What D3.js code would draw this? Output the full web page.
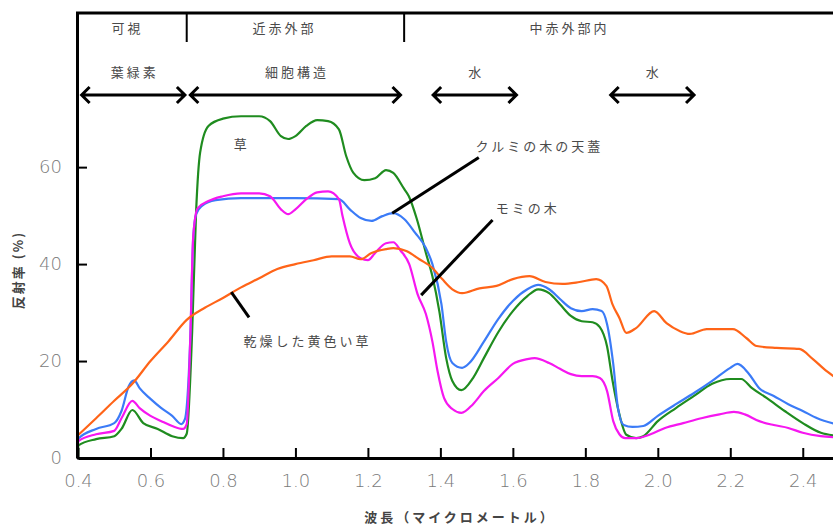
<!DOCTYPE html>
<html>
  <head>
    <meta charset="utf-8">
    <title>反射率スペクトル</title>
    <style media="screen">
      body { margin: 0; background: #fff; }

      .axis path, .axis line {
        stroke: black;
      }
      .axis path { stroke-width: 3; }
      .axis line { stroke-width: 2; }

      .axis text {
        font-family: "DejaVu Sans", sans-serif;
        font-weight: 300;
        font-size: 18px;
        fill: #7a7a7a;
      }

      .jp {
        font-family: "Noto Sans CJK JP", sans-serif;
        font-size: 13px;
        fill: #4a4a4a;
        letter-spacing: 3px;
      }

      .title {
        font-family: "Noto Sans CJK JP", sans-serif;
        font-size: 13px;
        font-weight: bold;
        fill: #444;
      }

      .series {
        fill: none;
        stroke-width: 2.2;
        stroke-linejoin: round;
      }

      .frame, .arrow, .leader {
        fill: none;
        stroke: black;
      }
    </style>
    <script src="https://d3js.org/d3.v7.min.js"></script>
  </head>
  <body>
    <script type="text/javascript">

      const width = 833;
      const height = 527;

      // [波長 (µm), 反射率 (%)]
      const grass = [
        [0.40, 0], [0.401, 2.6], [0.45, 3.9], [0.50, 4.5], [0.52, 6], [0.55, 9.9], [0.58, 7.2],
        [0.62, 6], [0.66, 4.5], [0.69, 4.1], [0.70, 5], [0.715, 26], [0.726, 51], [0.737, 63],
        [0.76, 68.5], [0.80, 70], [0.85, 70.5], [0.90, 70.5], [0.93, 69.5], [0.96, 66.4],
        [0.98, 65.8], [1.00, 66.4], [1.03, 68.5], [1.06, 69.7], [1.09, 69.5], [1.12, 67.8],
        [1.14, 62.3], [1.16, 58.8], [1.19, 57.3], [1.22, 57.7], [1.25, 59.4], [1.27, 58.8],
        [1.30, 55.5], [1.313, 54], [1.335, 49.3], [1.36, 42.3], [1.378, 37.5], [1.397, 30.3],
        [1.416, 20.6], [1.433, 15.9], [1.458, 14], [1.49, 16.5], [1.52, 20.6], [1.56, 26],
        [1.60, 30.3], [1.64, 33.4], [1.67, 34.8], [1.70, 34], [1.73, 31.7], [1.76, 29.3],
        [1.79, 28.2], [1.82, 28], [1.84, 27], [1.86, 23], [1.875, 16], [1.894, 9], [1.913, 4.8],
        [1.94, 4.1], [1.96, 4.5], [2.00, 7.6], [2.05, 10.3], [2.10, 12.8], [2.15, 15.3],
        [2.20, 16.3], [2.23, 16.3], [2.26, 14.4], [2.30, 12.4], [2.35, 9.7], [2.40, 7.2],
        [2.45, 5.2], [2.49, 4.6]
      ];

      const walnut = [
        [0.40, 3.5], [0.401, 4], [0.45, 6], [0.50, 7.2], [0.52, 9.7], [0.54, 14.8], [0.555, 16],
        [0.57, 14.4], [0.60, 12.2], [0.63, 10.3], [0.66, 8.7], [0.685, 7], [0.695, 8], [0.71, 25],
        [0.718, 45.4], [0.726, 50.3], [0.742, 52], [0.78, 53.2], [0.85, 53.6], [1.00, 53.6],
        [1.12, 53.4], [1.15, 51.3], [1.18, 49.5], [1.21, 48.9], [1.24, 49.9], [1.27, 50.5],
        [1.30, 49.3], [1.33, 46.5], [1.36, 43.3], [1.378, 40], [1.403, 31.7], [1.416, 24],
        [1.433, 19.6], [1.46, 18.6], [1.48, 19.6], [1.52, 24], [1.56, 28.7], [1.60, 32.4],
        [1.64, 34.8], [1.67, 35.7], [1.70, 34.8], [1.73, 32.8], [1.76, 30.9], [1.79, 30.3],
        [1.82, 30.7], [1.845, 30.3], [1.86, 27.6], [1.877, 19.4], [1.89, 10.3], [1.906, 6.8],
        [1.93, 6.4], [1.96, 6.6], [2.00, 8.7], [2.05, 11.1], [2.10, 13.4], [2.15, 15.9],
        [2.20, 18.6], [2.22, 19.4], [2.25, 17.5], [2.28, 14.4], [2.32, 12.8], [2.36, 11.1],
        [2.40, 9.7], [2.44, 8.2], [2.49, 7]
      ];

      const fir = [
        [0.40, 3], [0.401, 3.5], [0.45, 4.9], [0.50, 5.6], [0.52, 8.2], [0.55, 11.8], [0.57, 10.3],
        [0.60, 8.7], [0.63, 7.6], [0.66, 6.6], [0.69, 6], [0.70, 7], [0.71, 25], [0.718, 45.8],
        [0.73, 51.5], [0.76, 53], [0.80, 54], [0.85, 54.6], [0.90, 54.6], [0.93, 54], [0.96, 51.3],
        [0.98, 50.3], [1.00, 51.3], [1.03, 53.4], [1.06, 54.8], [1.09, 55], [1.12, 53.4],
        [1.13, 49.9], [1.15, 44.3], [1.18, 41.2], [1.20, 40.8], [1.22, 42.3], [1.25, 44.3],
        [1.27, 44.5], [1.29, 42.8], [1.314, 40], [1.337, 33.8], [1.36, 29.7], [1.378, 24],
        [1.392, 18], [1.41, 12.4], [1.433, 10.1], [1.458, 9.3], [1.49, 11.1], [1.52, 13.8],
        [1.56, 16.5], [1.60, 19.4], [1.64, 20.4], [1.66, 20.6], [1.70, 19.6], [1.73, 18.4],
        [1.76, 17.3], [1.79, 16.9], [1.82, 16.9], [1.84, 16.5], [1.86, 13.8], [1.877, 7.6],
        [1.894, 4.9], [1.91, 4.1], [1.94, 4.1], [1.98, 4.9], [2.02, 6.2], [2.07, 7.2],
        [2.12, 8.2], [2.17, 9], [2.21, 9.5], [2.24, 9], [2.28, 7.6], [2.32, 6.8], [2.36, 6.2],
        [2.40, 5.2], [2.45, 4.5], [2.49, 4.3]
      ];

      const dryGrass = [
        [0.40, 4.7], [0.45, 8.2], [0.50, 11.8], [0.55, 15.3], [0.60, 20], [0.65, 24.1], [0.70, 28.5],
        [0.75, 31], [0.80, 33], [0.85, 35.2], [0.90, 37.1], [0.95, 39], [1.00, 40], [1.05, 40.8],
        [1.10, 41.6], [1.15, 41.6], [1.18, 41], [1.21, 42.3], [1.25, 43.1], [1.27, 43.3],
        [1.306, 42.7], [1.342, 41], [1.378, 39.2], [1.405, 36.9], [1.433, 34.8], [1.46, 34],
        [1.508, 35], [1.555, 35.5], [1.60, 36.9], [1.646, 37.5], [1.69, 36.3], [1.737, 35.9],
        [1.784, 36.3], [1.83, 36.9], [1.858, 35.5], [1.875, 31.7], [1.894, 28.9], [1.913, 25.8],
        [1.94, 26.8], [1.99, 30.3], [2.024, 27.8], [2.06, 26.2], [2.088, 25.6], [2.135, 26.6],
        [2.207, 26.6], [2.245, 24.7], [2.273, 23.1], [2.328, 22.7], [2.39, 22.5], [2.428, 20.4],
        [2.466, 17.9], [2.49, 16.6]
      ];

      const seriesNames = ['草', 'クルミの木の天蓋', 'モミの木', '乾燥した黄色い草'];
      const seriesData = [grass, walnut, fir, dryGrass];
      const seriesColors = ['#1f8c1f', '#3b7bf7', '#f617f0', '#ff6418'];

      const xTicks = [0.4, 0.6, 0.8, 1.0, 1.2, 1.4, 1.6, 1.8, 2.0, 2.2, 2.4];
      const yTicks = [0, 20, 40, 60];

      // 上部の領域区分
      const bands = [
        { name: '可視', from: 0.4, to: 0.7 },
        { name: '近赤外部', from: 0.7, to: 1.3 },
        { name: '中赤外部内', from: 1.3, to: 2.2 }
      ];
      const absorbers = [
        { name: '葉緑素', from: 0.41, to: 0.695 },
        { name: '細胞構造', from: 0.71, to: 1.29 },
        { name: '水', from: 1.38, to: 1.61 },
        { name: '水', from: 1.87, to: 2.10 }
      ];

      // ラベルと引き出し線 [波長, 反射率]
      const labels = [
        { text: '草', at: [0.83, 64.6], line: null },
        { text: 'クルミの木の天蓋', at: [1.497, 64.3], line: [[1.267, 50.5], [1.506, 62.0]] },
        { text: 'モミの木', at: [1.553, 51.4], line: [[1.347, 33.6], [1.544, 49.1]] },
        { text: '乾燥した黄色い草', at: [0.857, 24.0], line: [[0.823, 34.2], [0.872, 29.0]] }
      ];

      const x = d3.scaleLinear().domain([0.4, 2.5]).range([78, 839]);
      const y = d3.scaleLinear().domain([0, 92]).range([458, 12]);

      const svg = d3.select('body')
        .append('svg')
          .attr('width', width)
          .attr('height', height);

      // 曲線
      const line = d3.line()
        .x(d => x(d[0]))
        .y(d => y(d[1]))
        .curve(d3.curveMonotoneX);

      svg.append('g')
        .selectAll('path')
        .data(seriesData)
        .enter()
        .append('path')
          .attr('class', 'series')
          .attr('stroke', (d, i) => seriesColors[i])
          .attr('d', line);

      // 軸
      svg.append('g')
        .attr('class', 'x axis')
        .attr('transform', `translate(0, ${y(0)})`)
        .call(d3.axisBottom(x).tickValues(xTicks).tickFormat(d3.format('.1f'))
          .tickSizeInner(-10).tickSizeOuter(0).tickPadding(16));

      svg.append('g')
        .attr('class', 'y axis')
        .attr('transform', `translate(${x(0.4) - 1}, 0)`)
        .call(d3.axisLeft(y).tickValues(yTicks)
          .tickSizeInner(-10).tickSizeOuter(0).tickPadding(15));

      // 上枠と区切り
      svg.append('line')
        .attr('class', 'frame')
        .attr('x1', x(0.4) - 2).attr('x2', width)
        .attr('y1', y(92) + 1).attr('y2', y(92) + 1)
        .attr('stroke-width', 3);

      svg.append('g')
        .selectAll('line')
        .data(bands.slice(1))
        .enter()
        .append('line')
          .attr('class', 'frame')
          .attr('stroke-width', 2)
          .attr('x1', d => x(d.from)).attr('x2', d => x(d.from))
          .attr('y1', 12).attr('y2', 42);

      svg.append('g')
        .selectAll('text')
        .data(bands)
        .enter()
        .append('text')
          .attr('class', 'jp')
          .attr('text-anchor', 'middle')
          .attr('x', (d, i) => [126, 283, 568][i] + 1.5)
          .attr('y', 33)
          .text(d => d.name);

      // 吸収帯の矢印
      const arrows = svg.append('g');
      const ay = 95;
      absorbers.forEach(d => {
        const x1 = x(d.from), x2 = x(d.to);
        arrows.append('path')
          .attr('class', 'arrow')
          .attr('stroke-width', 3)
          .attr('d', `M${x1},${ay}H${x2}M${x1 + 8},${ay - 8}L${x1},${ay}L${x1 + 8},${ay + 8}` +
            `M${x2 - 8},${ay - 8}L${x2},${ay}L${x2 - 8},${ay + 8}`);
        arrows.append('text')
          .attr('class', 'jp')
          .attr('text-anchor', 'middle')
          .attr('x', (x1 + x2) / 2 + 1.5)
          .attr('y', 77)
          .text(d.name);
      });

      // 系列ラベル
      const notes = svg.append('g');
      labels.forEach(d => {
        if (d.line) {
          notes.append('line')
            .attr('class', 'leader')
            .attr('stroke-width', 3)
            .attr('x1', x(d.line[0][0])).attr('y1', y(d.line[0][1]))
            .attr('x2', x(d.line[1][0])).attr('y2', y(d.line[1][1]));
        }
        notes.append('text')
          .attr('class', 'jp')
          .attr('x', x(d.at[0]))
          .attr('y', y(d.at[1]))
          .attr('dy', '0.35em')
          .text(d.text);
      });

      // 軸タイトル
      svg.append('text')
        .attr('class', 'title')
        .attr('text-anchor', 'middle')
        .attr('letter-spacing', '3px')
        .attr('x', 460)
        .attr('y', 522)
        .text('波長（マイクロメートル）');

      svg.append('text')
        .attr('class', 'title')
        .attr('text-anchor', 'middle')
        .attr('letter-spacing', '2px')
        .attr('transform', 'translate(23, 270) rotate(-90)')
        .text('反射率 (%)');
    </script>
  </body>
</html>
